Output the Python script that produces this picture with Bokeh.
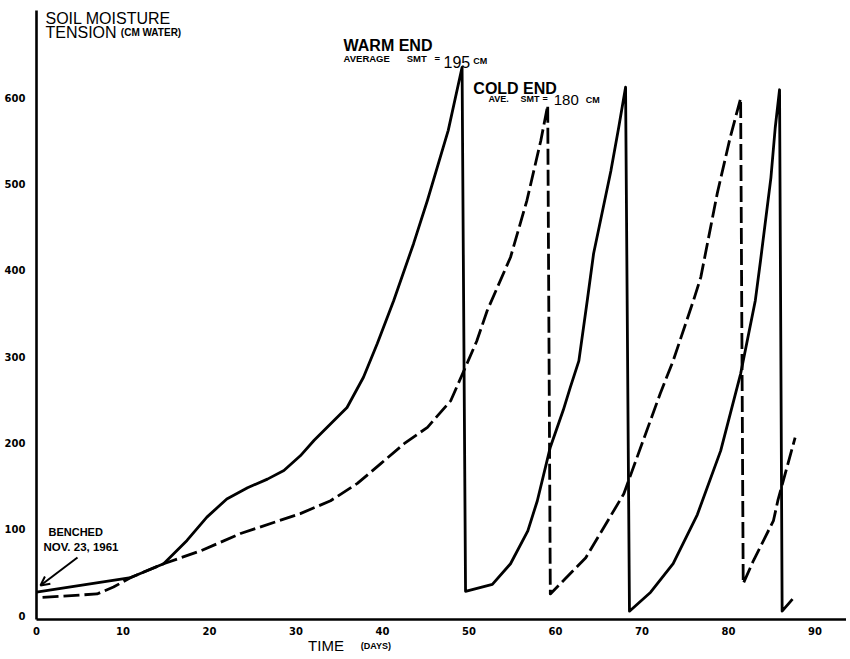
from bokeh.plotting import figure
from bokeh.models import Label, Arrow, OpenHead, FixedTicker, Range1d
from bokeh.embed import file_html
from bokeh.resources import INLINE

# Warm end (solid line): time in days, soil moisture tension in cm water
warm_day = [0.0, 10.9, 14.7, 17.4, 19.7, 22.0, 24.4, 26.7, 28.6, 30.5, 32.1, 35.9,
            37.8, 39.4, 41.3, 43.6, 45.2, 47.6, 49.2,
            49.6, 52.7, 54.8, 56.8, 57.9, 59.4, 60.9, 61.7, 62.7, 63.7, 64.4, 66.4,
            67.3, 68.1,
            68.55, 71.0, 73.6, 76.4, 79.1, 81.4, 83.1, 83.7, 84.9, 85.4, 85.9,
            86.2, 87.4]
warm_tension = [27, 44, 60, 87, 114, 135, 148, 158, 168, 185, 203, 241,
                276, 315, 365, 431, 481, 562, 635,
                28, 36, 60, 98, 133, 195, 238, 264, 295, 367, 419, 515,
                565, 612,
                5, 27, 60, 117, 191, 280, 365, 411, 507, 565, 609,
                5, 19]

# Cold end (dashed line)
cold_day = [0.7, 7.0, 8.9, 10.9, 14.7, 19.0, 23.6, 30.5, 34.0, 37.1, 39.8, 42.5,
            45.2, 47.9, 49.6, 50.9, 52.1, 54.8, 56.7, 58.3, 59.1,
            59.4, 63.5, 67.9, 72.1, 73.6, 75.95, 76.8, 78.7, 80.2, 81.4,
            81.7, 82.9, 85.2, 85.7, 87.7]
cold_tension = [21, 25, 33, 44, 60, 75, 95, 118, 133, 153, 176, 199,
                218, 249, 288, 318, 353, 415, 481, 550, 591,
                25, 67, 141, 257, 295, 365, 392, 489, 554, 599,
                37, 64, 110, 133, 206]

x_ticks = [0, 10, 20, 30, 40, 50, 60, 70, 80, 90]
y_ticks = [0, 100, 200, 300, 400, 500, 600]

X_START, X_END = -4.16, 93.64
Y_START, Y_END = -46.3, 712.4
Y_AXIS_BOTTOM, Y_AXIS_TOP = -4.6, 700.8

p = figure(width=846, height=655, output_backend="svg", toolbar_location=None,
           x_range=Range1d(X_START, X_END), y_range=Range1d(Y_START, Y_END),
           min_border_left=0, min_border_right=0, min_border_top=0,
           min_border_bottom=0)
p.grid.visible = False
p.outline_line_color = None
p.background_fill_color = "white"
p.border_fill_color = "white"

for ax in (p.xaxis[0], p.yaxis[0]):
    ax.axis_line_width = 2.6
    ax.axis_line_color = "black"
    ax.major_tick_line_color = None
    ax.minor_tick_line_color = None
    ax.major_label_text_font = "DejaVu Sans"
    ax.major_label_text_font_style = "bold"
    ax.major_label_text_font_size = "10px"
    ax.major_label_text_color = "black"
p.xaxis[0].ticker = FixedTicker(ticks=x_ticks)
p.yaxis[0].ticker = FixedTicker(ticks=y_ticks)
p.xaxis[0].fixed_location = Y_AXIS_BOTTOM
p.xaxis[0].bounds = (0, X_END)
p.yaxis[0].fixed_location = 0
p.yaxis[0].bounds = (Y_AXIS_BOTTOM, Y_AXIS_TOP)
p.xaxis[0].major_label_standoff = 2
p.yaxis[0].major_label_standoff = 5

p.line(warm_day, warm_tension, line_width=2.8, line_color="black",
       line_join="round")
p.line(cold_day, cold_tension, line_width=2.8, line_color="black",
       line_dash="16 5", line_join="round")

FONT = "Liberation Sans"

def add_text(x, y, txt, size, style="normal"):
    p.add_layout(Label(x=x, y=y, text=txt, text_font=FONT,
                       text_font_size=size, text_font_style=style,
                       text_color="black", text_baseline="alphabetic",
                       text_align="left"))

add_text(1.04, 691.8, "SOIL MOISTURE", "16px")
add_text(1.04, 675.8, "TENSION", "16px")
add_text(9.75, 675.8, "(CM WATER)", "10px", "bold")

add_text(35.5, 660.3, "WARM END", "16px", "bold")
add_text(35.5, 645.2, "AVERAGE", "9.5px", "bold")
add_text(42.8, 645.2, "SMT", "9.5px", "bold")
add_text(46.0, 645.2, "=", "9.5px", "bold")
add_text(47.05, 640.6, "195", "16px")
add_text(50.5, 642.8, "CM", "9px", "bold")

add_text(50.5, 610.5, "COLD END", "16px", "bold")
add_text(52.25, 598.8, "AVE.", "9px", "bold")
add_text(55.95, 598.8, "SMT", "9px", "bold")
add_text(58.5, 598.8, "=", "9px", "bold")
add_text(59.8, 596.6, "180", "15px")
add_text(63.5, 596.6, "CM", "9px", "bold")

add_text(1.39, 96.2, "BENCHED", "11px", "bold")
add_text(0.81, 78.8, "NOV. 23, 1961", "11.5px", "bold")
p.add_layout(Arrow(x_start=4.74, y_start=67.2, x_end=0.46, y_end=34.8,
                   line_width=2, line_color="black",
                   end=OpenHead(size=9, line_width=2, line_color="black")))

add_text(31.4, -34.8, "TIME", "15px")
add_text(37.5, -34.8, "(DAYS)", "9px", "bold")

open("out.html", "w").write(file_html(p, INLINE))
